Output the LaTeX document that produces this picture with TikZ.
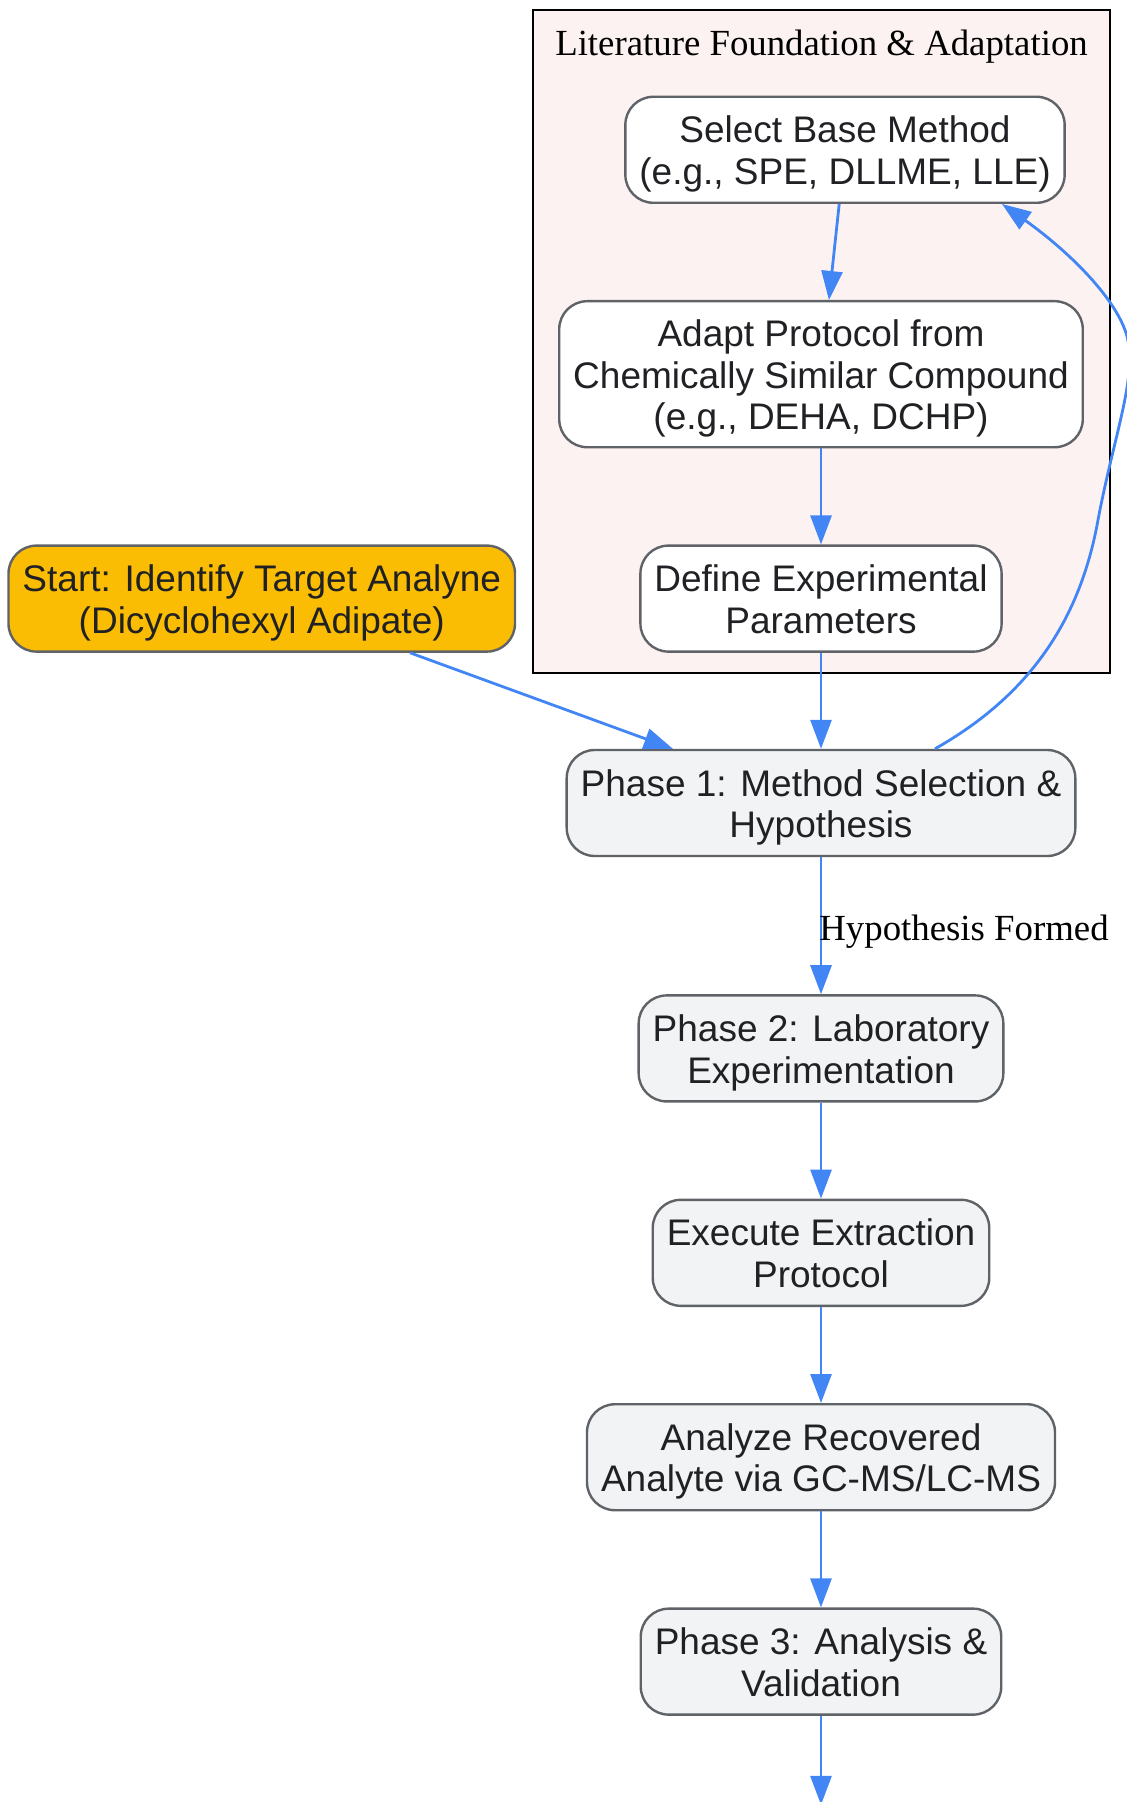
\documentclass[tikz,border=0pt]{standalone}
\usepackage{fontspec}
\setmainfont{Liberation Serif}
\setsansfont{Liberation Sans}
\usetikzlibrary{arrows.meta,positioning}
\definecolor{edgeblue}{HTML}{4285F4}
\definecolor{bordergray}{HTML}{5F6368}
\definecolor{phasefill}{HTML}{F1F3F4}
\definecolor{startfill}{HTML}{FBBC04}
\definecolor{clusterfill}{HTML}{FDF2F2}
\definecolor{textdark}{HTML}{202124}
\newcommand{\upstrut}{\rule{0pt}{17.8bp}}
\newcommand{\downstrut}{\rule[-4bp]{0pt}{4bp}}

\begin{document}
\begin{tikzpicture}[x=0.5bp, y=-0.5bp,
  node distance=48bp,
  litnode/.style={rectangle,rounded corners=14bp,draw=bordergray,line width=1.2bp,fill=white,text=textdark,
    inner xsep=7bp,minimum height=53bp,font=\sffamily\fontsize{18.5bp}{20.8bp}\selectfont},
  phasenode/.style={litnode,fill=phasefill},
  startnode/.style={litnode,fill=startfill},
  cluster/.style={rectangle,draw=black,line width=1.3bp,fill=clusterfill,inner sep=0pt},
  serifnote/.style={font=\rmfamily\fontsize{18.4bp}{20.7bp}\selectfont,inner sep=0pt},
  flow/.style={draw=edgeblue,line width=1.4bp,-{Triangle[length=14.5bp,width=10.5bp]}},
  align=center]

  \useasboundingbox (0,0) rectangle (1127,1802);

  % literature cluster
  \node[cluster, minimum width=288.5bp, minimum height=331.5bp] (lit box) at (821.5,341.5) {};
  \node[serifnote, anchor=base] (lit title) at ([yshift=-23.5bp]lit box.north) {Literature Foundation \& Adaptation};

  \node[phasenode] (phase 1) at (821,803) {\upstrut Phase 1: Method Selection \&\\Hypothesis\downstrut};
  \node[litnode] (define params) [above=of phase 1] {\upstrut Define Experimental\\Parameters\downstrut};
  \node[litnode, minimum height=73bp] (adapt protocol) [above=of define params] {\upstrut Adapt Protocol from\\Chemically Similar Compound\\(e.g., DEHA, DCHP)\downstrut};
  \node[litnode] (select method) [above=of adapt protocol, xshift=12bp] {\upstrut Select Base Method\\(e.g., SPE, DLLME, LLE)\downstrut};
  \node[startnode] (start) [left=61.5bp of define params] {\upstrut Start: Identify Target Analyne\\(Dicyclohexyl Adipate)\downstrut};

  \node[phasenode] (phase 2) [below=68.5bp of phase 1] {\upstrut Phase 2: Laboratory\\Experimentation\downstrut};
  \node[phasenode] (execute extraction) [below=of phase 2] {\upstrut Execute Extraction\\Protocol\downstrut};
  \node[phasenode] (analyze analyte) [below=of execute extraction] {\upstrut Analyze Recovered\\Analyte via GC-MS/LC-MS\downstrut};
  \node[phasenode] (phase 3) [below=of analyze analyte] {\upstrut Phase 3: Analysis \&\\Validation\downstrut};
  \coordinate[below=44.5bp of phase 3] (next step);

  \draw[flow] (start) -- (phase 1);
  \draw[flow] (select method) -- (adapt protocol);
  \draw[flow] (adapt protocol) -- (define params);
  \draw[flow] (define params) -- (phase 1);
  \draw[flow] ([xshift=57bp]phase 1.north) .. controls (1030,695) and (1080,620) .. (1098,520)
    .. controls (1115,430) and (1140,370) .. (1125,330)
    .. controls (1110,290) and (1060,245) .. ([xshift=78.5bp]select method.south);
  \draw[flow] (phase 1) -- node[serifnote, midway, anchor=west, xshift=-1.5bp, yshift=-3bp] {Hypothesis Formed} (phase 2);
  \draw[flow] (phase 2) -- (execute extraction);
  \draw[flow] (execute extraction) -- (analyze analyte);
  \draw[flow] (analyze analyte) -- (phase 3);
  \draw[flow] (phase 3) -- (next step);
\end{tikzpicture}
\end{document}
